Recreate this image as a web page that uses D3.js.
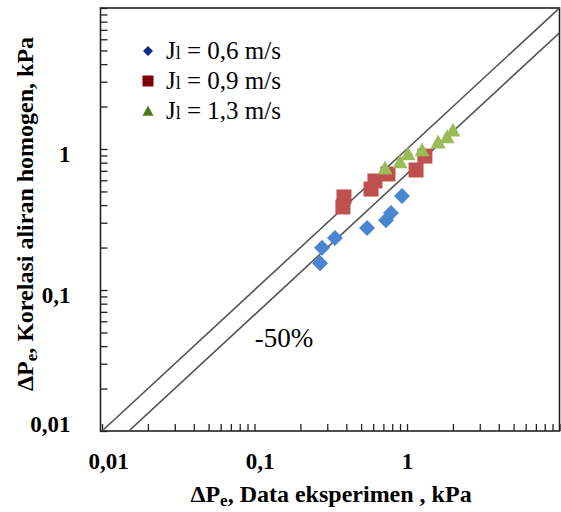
<!DOCTYPE html>
<html><head><meta charset="utf-8">
<script src="https://cdn.jsdelivr.net/npm/d3@7"></script>
<style>
html,body{margin:0;padding:0;background:#fff;}
svg{display:block;}
</style></head>
<body><svg id="c" width="561" height="512"></svg>
<script>
// ---- data ----
const seriesNames = ["0,6 m/s", "0,9 m/s", "1,3 m/s"];
const expJ06 = [0.269, 0.277, 0.337, 0.547, 0.728, 0.785, 0.927];
const corJ06 = [0.155, 0.199, 0.234, 0.275, 0.313, 0.352, 0.465];
const expJ09 = [0.386, 0.380, 0.581, 0.616, 0.750, 1.146, 1.310];
const corJ09 = [0.457, 0.388, 0.520, 0.593, 0.665, 0.710, 0.891];
const expJ13 = [0.718, 0.900, 1.016, 1.254, 1.600, 1.830, 2.000];
const corJ13 = [0.733, 0.810, 0.923, 0.984, 1.120, 1.220, 1.360];
const majorTicks = [0.01, 0.1, 1, 10];
const tickLabels = ["0,01", "0,1", "1", ""];
const deviationFactor = 1.5; // lower line: corr = exp / 1.5
const deviationLabel = "-50%";

// ---- layout ----
const FF = "Liberation Serif";
const svg = d3.select("#c");
const L = 102, R = 559.5, T = 8, B = 431;
const x = d3.scaleLog().domain([0.01, 10]).range([L, R]);
const y = d3.scaleLog().domain([0.01, 10]).range([B, T]);

const minor = [];
for (let d = 0.01; d < 10; d *= 10) for (let k = 1; k < 10; k++) minor.push(+(d * k).toPrecision(3));
minor.push(10);

// frame
svg.append("rect").attr("x", L - 1.5).attr("y", T).attr("width", R - L + 1.5).attr("height", B - T)
  .attr("fill", "none").attr("stroke", "#222").attr("stroke-width", 1.6);

// ticks
const fmt = v => { const i = majorTicks.indexOf(v); return i >= 0 ? tickLabels[i] : ""; };
const gx = svg.append("g").attr("transform", `translate(0,${B})`)
  .call(d3.axisBottom(x).tickValues(minor).tickSize(-7).tickPadding(22).tickFormat(fmt));
const gy = svg.append("g").attr("transform", `translate(${L - 1.5},0)`)
  .call(d3.axisLeft(y).tickValues(minor).tickSize(-7).tickPadding(30).tickFormat(fmt));
[gx, gy].forEach(g => {
  g.attr("font-family", FF);
  g.select(".domain").remove();
  g.selectAll(".tick line").attr("stroke", "#222").attr("stroke-width", 1.3);
  g.selectAll(".tick text").style("font-family", FF).attr("font-weight", "bold")
    .attr("font-size", 23).attr("fill", "#000");
});
gy.selectAll(".tick text").attr("dy", d => d === 0.01 ? "0" : "0.55em");
gx.selectAll(".tick text").attr("dx", d => d === 0.1 ? 5 : (d === 0.01 ? 6 : 0));

// clip
svg.append("clipPath").attr("id", "pc").append("rect").attr("x", L).attr("y", T).attr("width", R - L).attr("height", B - T);

// reference lines
const lineG = svg.append("g").attr("clip-path", "url(#pc)");
const lineDomain = [0.01, 10];
[1, deviationFactor].forEach(f => {
  lineG.append("line")
    .attr("x1", x(lineDomain[0])).attr("y1", y(lineDomain[0] / f))
    .attr("x2", x(lineDomain[1])).attr("y2", y(lineDomain[1] / f))
    .attr("stroke", "#555").attr("stroke-width", 1.6);
});

// markers
const colors = ["#4a86d0", "#c0504d", "#9bbb59"];
const legendColors = ["#0b2a8c", "#7f0000", "#4e7a1e"];
const diamond = (s) => `M0,${-s}L${s},0L0,${s}L${-s},0Z`;
const square = (s) => `M${-s},${-s}H${s}V${s}H${-s}Z`;
const tri = (s) => `M0,${-s}L${s},${s * 0.85}L${-s},${s * 0.85}Z`;
const shapes = [diamond, square, tri];
const sizes = [8, 7.5, 7.5];
const series = [[expJ06, corJ06], [expJ09, corJ09], [expJ13, corJ13]];
const ptG = svg.append("g");
series.forEach((s, i) => {
  s[0].forEach((xv, j) => {
    ptG.append("path").attr("d", shapes[i](sizes[i]))
      .attr("transform", `translate(${x(xv)},${y(s[1][j])})`)
      .attr("fill", colors[i]);
  });
});

// legend
const lg = svg.append("g");
seriesNames.forEach((n, i) => {
  const yy = 51 + i * 30;
  lg.append("path").attr("d", shapes[i]([5, 5.5, 5.5][i])).attr("transform", `translate(148,${yy})`).attr("fill", legendColors[i]);
  const t = lg.append("text").attr("x", 166).attr("y", yy + 8).style("font-family", FF)
    .attr("font-size", 25).attr("fill", "#000");
  t.append("tspan").text("J");
  t.append("tspan").attr("font-size", 18).text("l");
  t.append("tspan").text(" = " + n);
});

// -50% label
svg.append("text").attr("x", 284).attr("y", 347).attr("text-anchor", "middle").style("font-family", FF)
  .attr("font-size", 27).attr("fill", "#000").text(deviationLabel);

// axis titles
const xt = svg.append("text").attr("x", 331).attr("y", 502).attr("text-anchor", "middle").style("font-family", FF)
  .attr("font-size", 24).attr("font-weight", "bold").attr("fill", "#000");
xt.append("tspan").text("ΔP");
xt.append("tspan").attr("font-size", 17).attr("dy", 4).text("e");
xt.append("tspan").attr("dy", -4).text(", Data eksperimen , kPa");

const yt = svg.append("text").attr("transform", "translate(33,214) rotate(-90)").attr("text-anchor", "middle").style("font-family", FF)
  .attr("font-size", 24).attr("font-weight", "bold").attr("fill", "#000");
yt.append("tspan").text("ΔP");
yt.append("tspan").attr("font-size", 17).attr("dy", 4).text("e");
yt.append("tspan").attr("dy", -4).text(", Korelasi aliran homogen, kPa");
</script></body></html>
